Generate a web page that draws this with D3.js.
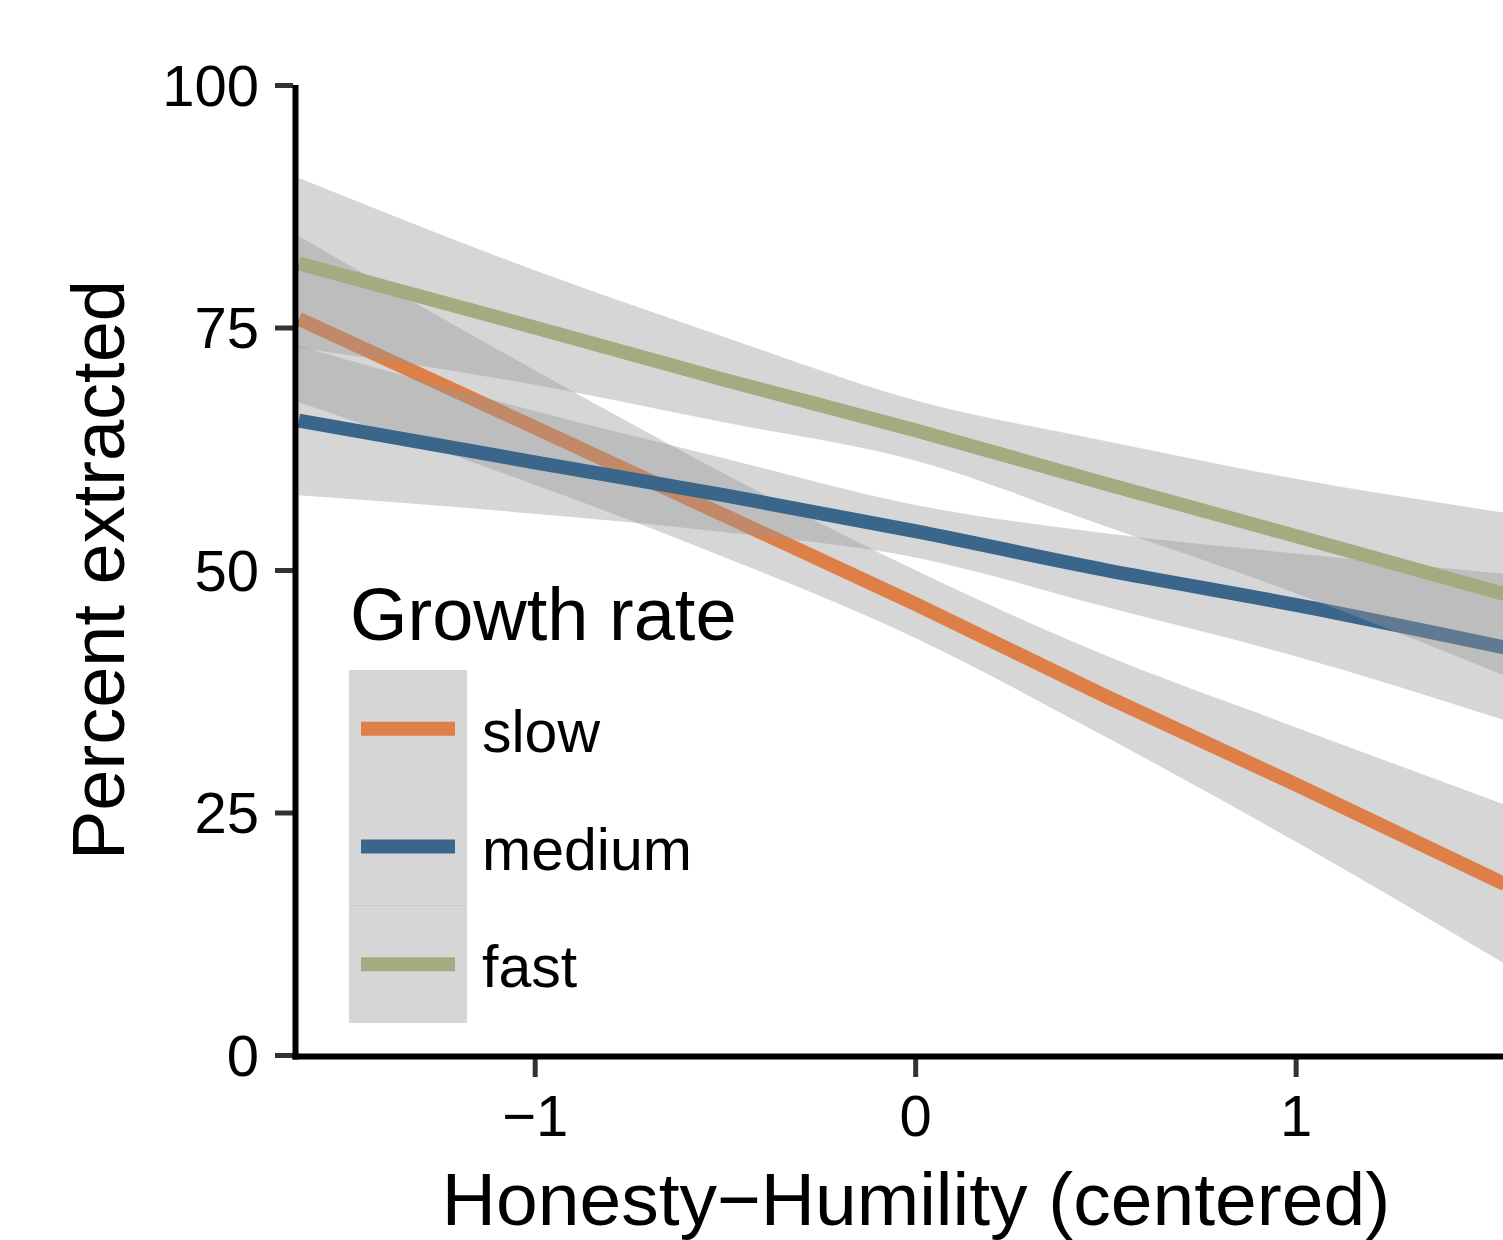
<!DOCTYPE html>
<html>
<head>
<meta charset="utf-8">
<script src="https://cdn.jsdelivr.net/npm/d3@7"></script>
<style>
  html, body { margin: 0; padding: 0; background: #ffffff; }
  svg { display: block; }
  text { font-family: "Liberation Sans", Arial, Helvetica, sans-serif; fill: #000; }
</style>
</head>
<body>
<svg id="chart" width="1503" height="1240"></svg>
<script>
// ---- data ----
const xVals = [-1.62, -1, -0.5, 0, 0.5, 1, 1.55];

const slowFit     = [75.9, 64.7, 55.6, 46.5, 37.0, 27.9, 17.6];
const slowLower   = [67.3, 58.8, 51.3, 43.0, 32.8, 22.0, 9.4];
const slowUpper   = [84.4, 70.6, 59.9, 50.0, 41.2, 33.8, 25.8];

const mediumFit   = [65.4, 61.1, 57.7, 54.0, 50.0, 46.4, 42.0];
const mediumLower = [57.7, 55.8, 53.9, 51.3, 46.2, 41.1, 34.5];
const mediumUpper = [73.1, 66.4, 61.5, 56.7, 53.8, 51.7, 49.6];

const fastFit     = [81.6, 75.0, 69.6, 64.4, 58.9, 53.5, 47.5];
const fastLower   = [72.9, 69.1, 65.2, 61.3, 54.5, 47.6, 39.1];
const fastUpper   = [90.4, 80.9, 74.0, 67.5, 63.3, 59.4, 55.9];

const groupNames  = ["slow", "medium", "fast"];
const groupColors = ["#DD7F46", "#3A668C", "#A3AC80"];

const xTicks = [-1, 0, 1];
const xTickLabels = ["\u22121", "0", "1"];
const yTicks = [0, 25, 50, 75, 100];
const yTickLabels = ["0", "25", "50", "75", "100"];

const xTitle = "Honesty\u2212Humility (centered)";
const yTitle = "Percent extracted";
const legendTitle = "Growth rate";

// ---- build ----
const groups = [
  {name: groupNames[0], color: groupColors[0], fit: slowFit,   lo: slowLower,   hi: slowUpper},
  {name: groupNames[1], color: groupColors[1], fit: mediumFit, lo: mediumLower, hi: mediumUpper},
  {name: groupNames[2], color: groupColors[2], fit: fastFit,   lo: fastLower,   hi: fastUpper}
];

const svg = d3.select("#chart");
svg.append("rect").attr("width", 1503).attr("height", 1240).attr("fill", "#fff");

const x = d3.scaleLinear().domain([-1.63, 1.545]).range([295, 1503]);
const y = d3.scaleLinear().domain([0, 100]).range([1055, 85]);

const plot = svg.append("g");
const area = d3.area().curve(d3.curveMonotoneX).x(d => x(d.x)).y0(d => y(d.lo)).y1(d => y(d.hi));
const line = d3.line().curve(d3.curveMonotoneX).x(d => x(d.x)).y(d => y(d.v));

groups.forEach(g => {
  const pts = xVals.map((xv, i) => ({x: xv, lo: g.lo[i], hi: g.hi[i], v: g.fit[i]}));
  plot.append("path").datum(pts).attr("d", area)
    .attr("fill", "#999999").attr("fill-opacity", 0.4).attr("stroke", "none");
  plot.append("path").datum(pts).attr("d", line)
    .attr("fill", "none").attr("stroke", g.color).attr("stroke-width", 14);
});

// ---- axes ----
const yAxis = d3.axisLeft(y).tickValues(yTicks).tickFormat((d, i) => yTickLabels[i])
  .tickSize(18).tickSizeOuter(0).tickPadding(16);
const gy = svg.append("g").attr("transform", "translate(293,0)").call(yAxis);
gy.select(".domain").remove();
gy.selectAll(".tick line").attr("stroke", "#333").attr("stroke-width", 5);
gy.selectAll(".tick text").attr("font-size", 58).attr("fill", "#000")
  .attr("font-family", "'Liberation Sans', Arial, sans-serif").attr("dy", "0.35em");

const xAxis = d3.axisBottom(x).tickValues(xTicks).tickFormat((d, i) => xTickLabels[i])
  .tickSize(18).tickSizeOuter(0).tickPadding(18);
const gx = svg.append("g").attr("transform", "translate(0,1059)").call(xAxis);
gx.select(".domain").remove();
gx.selectAll(".tick line").attr("stroke", "#333").attr("stroke-width", 5);
gx.selectAll(".tick text").attr("font-size", 58).attr("fill", "#000")
  .attr("font-family", "'Liberation Sans', Arial, sans-serif").attr("dy", "0.71em");

// axis lines
svg.append("line").attr("x1", 295.5).attr("x2", 295.5).attr("y1", y(100)).attr("y2", 1059.5)
  .attr("stroke", "#000").attr("stroke-width", 6);
svg.append("line").attr("x1", 292.5).attr("x2", 1503).attr("y1", 1056.5).attr("y2", 1056.5)
  .attr("stroke", "#000").attr("stroke-width", 6);

// titles
svg.append("text").attr("x", 916).attr("y", 1225).attr("text-anchor", "middle")
  .attr("font-size", 75).text(xTitle);
svg.append("text").attr("transform", "translate(124," + ((y(0) + y(100)) / 2) + ") rotate(-90)")
  .attr("text-anchor", "middle").attr("font-size", 74).text(yTitle);

// ---- legend ----
const lg = svg.append("g");
lg.append("text").attr("x", 350).attr("y", 640).attr("font-size", 74).text(legendTitle);
const keyTop = 670, keyH = 117.7, keyX = 349, keyW = 118;
lg.append("rect").attr("x", keyX).attr("y", keyTop).attr("width", keyW).attr("height", Math.round(3 * keyH))
  .attr("fill", "#D6D6D6");
lg.append("line").attr("x1", keyX).attr("x2", keyX + keyW)
  .attr("y1", 905.5).attr("y2", 905.5)
  .attr("stroke", "#C8C8C8").attr("stroke-width", 1);
groups.forEach((g, i) => {
  const cy = keyTop + i * keyH + keyH / 2;
  lg.append("line").attr("x1", 361).attr("x2", 455).attr("y1", cy).attr("y2", cy)
    .attr("stroke", g.color).attr("stroke-width", 14);
  lg.append("text").attr("x", 482).attr("y", cy + 23).attr("font-size", 59).text(g.name);
});
</script>
</body>
</html>
